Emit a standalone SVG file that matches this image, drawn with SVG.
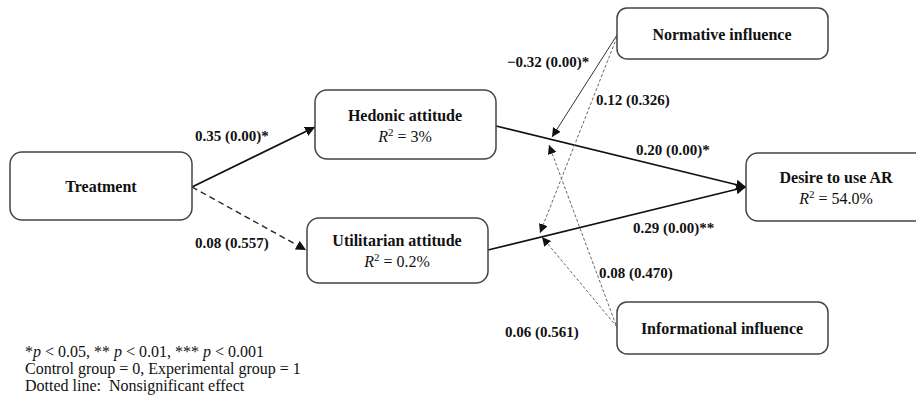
<svg xmlns="http://www.w3.org/2000/svg" width="916" height="400" viewBox="0 0 916 400">
<defs>
<marker id="ah" viewBox="0 0 10 10" refX="10" refY="5" markerWidth="9" markerHeight="9" markerUnits="userSpaceOnUse" orient="auto"><path d="M0,0 L10,5 L0,10 z" fill="#111"/></marker>
<marker id="ahs" viewBox="0 0 10 10" refX="10" refY="5" markerWidth="10" markerHeight="10" markerUnits="userSpaceOnUse" orient="auto"><path d="M0,0 L10,5 L0,10 z" fill="#111"/></marker>
<style>
.box{fill:#fff;stroke:#444;stroke-width:1.5}
.t{font-family:"Liberation Serif","Times New Roman",serif;font-size:16px;fill:#111;text-anchor:middle}
.b{font-weight:bold}
.lab{font-family:"Liberation Serif","Times New Roman",serif;font-size:15px;font-weight:bold;fill:#111}
.leg{font-family:"Liberation Serif","Times New Roman",serif;font-size:16px;fill:#111}
.solid{stroke:#111;stroke-width:1.8;fill:none}
.thin{stroke:#333;stroke-width:1;fill:none}
.dash{stroke:#222;stroke-width:1.4;stroke-dasharray:6,4;fill:none}
.dot{stroke:#666;stroke-width:1;stroke-dasharray:3,2;fill:none}
</style>
</defs>
<rect width="916" height="400" fill="#fff"/>
<g id="connectors">
<line class="solid" x1="192" y1="187" x2="315" y2="127" marker-end="url(#ahs)"/>
<line class="dash" x1="192" y1="187" x2="306" y2="250" marker-end="url(#ahs)"/>
<line class="solid" x1="496" y1="126" x2="746" y2="187" marker-end="url(#ahs)"/>
<line class="solid" x1="488" y1="250" x2="746" y2="187" marker-end="url(#ahs)"/>
<line class="thin" x1="617" y1="35" x2="552" y2="137" marker-end="url(#ah)"/>
<line class="dot" x1="617" y1="37" x2="540" y2="233" marker-end="url(#ah)"/>
<line class="dot" x1="616" y1="325" x2="549" y2="145" marker-end="url(#ah)"/>
<line class="dot" x1="617" y1="327" x2="542" y2="237" marker-end="url(#ah)"/>
</g>
<g id="labels">
<text class="lab" x="195" y="141">0.35 (0.00)*</text>
<text class="lab" x="195" y="248">0.08 (0.557)</text>
<text class="lab" x="507" y="67">−0.32 (0.00)*</text>
<text class="lab" x="596" y="105">0.12 (0.326)</text>
<text class="lab" x="636" y="155">0.20 (0.00)*</text>
<text class="lab" x="633" y="233">0.29 (0.00)**</text>
<text class="lab" x="599" y="278">0.08 (0.470)</text>
<text class="lab" x="505" y="337">0.06 (0.561)</text>
</g>
<g id="treatment">
<rect class="box" x="10" y="152" width="182" height="68" rx="12"/>
<text class="t b" x="101" y="192">Treatment</text>
</g>
<g id="hedonic">
<rect class="box" x="315" y="90" width="181" height="69" rx="12"/>
<text class="t b" x="405" y="121">Hedonic attitude</text>
<text class="t" x="405" y="142"><tspan font-style="italic">R</tspan><tspan font-size="11" dy="-6">2</tspan><tspan dy="6"> = 3%</tspan></text>
</g>
<g id="utilitarian">
<rect class="box" x="307" y="218" width="181" height="65" rx="12"/>
<text class="t b" x="397" y="246">Utilitarian attitude</text>
<text class="t" x="397" y="267"><tspan font-style="italic">R</tspan><tspan font-size="11" dy="-6">2</tspan><tspan dy="6"> = 0.2%</tspan></text>
</g>
<g id="desire">
<rect class="box" x="746" y="153" width="184" height="68" rx="12"/>
<text class="t b" x="836" y="183">Desire to use AR</text>
<text class="t" x="836" y="204"><tspan font-style="italic">R</tspan><tspan font-size="11" dy="-6">2</tspan><tspan dy="6"> = 54.0%</tspan></text>
</g>
<g id="normative">
<rect class="box" x="617" y="8" width="211" height="51" rx="10"/>
<text class="t b" x="722" y="40">Normative influence</text>
</g>
<g id="informational">
<rect class="box" x="617" y="302" width="211" height="52" rx="10"/>
<text class="t b" x="722" y="334">Informational influence</text>
</g>
<g id="legend">
<text class="leg" x="25" y="357">*<tspan font-style="italic">p</tspan> &lt; 0.05, ** <tspan font-style="italic">p</tspan> &lt; 0.01, *** <tspan font-style="italic">p</tspan> &lt; 0.001</text>
<text class="leg" x="25" y="374">Control group = 0, Experimental group = 1</text>
<text class="leg" x="25" y="391" xml:space="preserve">Dotted line:  Nonsignificant effect</text>
</g>
</svg>
